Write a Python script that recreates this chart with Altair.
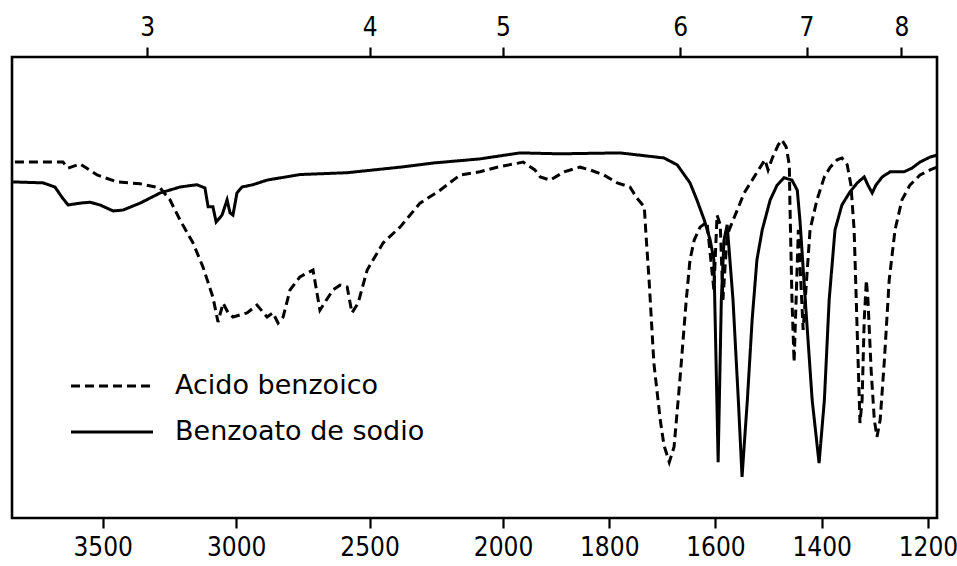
import altair as alt
import pandas as pd

# Infrared spectra: wavenumber (cm-1) and transmittance (%)
series_names = ["Acido benzoico", "Benzoato de sodio"]

acid_wn = [3829, 3649, 3630, 3585, 3521, 3446, 3360, 3285, 3248, 3210, 3162, 3124,
           3087, 3068, 3049, 3030, 3012, 2959, 2922, 2884, 2862, 2843, 2824, 2798,
           2761, 2712, 2686, 2637, 2611, 2584, 2566, 2543, 2509, 2449, 2386, 2311,
           2236, 2161, 2086, 2022, 1962, 1940, 1930, 1911, 1885, 1855, 1836, 1810,
           1785, 1761, 1748, 1734, 1731, 1725, 1716, 1704, 1697, 1687, 1678, 1667,
           1655, 1648, 1640, 1629, 1616, 1603, 1597, 1591, 1586, 1578, 1563, 1546,
           1525, 1507, 1501, 1493, 1482, 1475, 1467, 1461, 1460, 1456, 1452, 1444,
           1435, 1422, 1409, 1395, 1384, 1371, 1362, 1352, 1345, 1339, 1335, 1331,
           1328, 1324, 1320, 1316, 1313, 1307, 1301, 1296, 1290, 1282, 1273, 1262,
           1249, 1234, 1215, 1196, 1183]
acid_t = [77.2, 77.2, 75.9, 76.8, 74.4, 72.9, 72.5, 71.6, 69.0, 64.6, 59.7, 54.4,
          47.9, 42.5, 46.6, 44.5, 43.6, 44.5, 46.2, 43.6, 44.5, 42.3, 43.6, 49.5,
          52.3, 53.8, 45.1, 49.5, 50.5, 50.1, 44.5, 46.6, 53.8, 59.7, 63.1, 68.3,
          71.1, 74.4, 75.1, 76.1, 77.2, 75.5, 74.0, 73.3, 75.1, 76.1, 75.5, 74.4,
          72.7, 71.8, 69.4, 67.5, 61.8, 51.6, 33.6, 21.3, 15.8, 12.1, 15.4, 29.9,
          47.3, 56.0, 60.3, 63.1, 64.2, 49.5, 65.7, 63.6, 47.3, 61.4, 65.7, 70.5,
          74.4, 77.7, 75.5, 78.1, 80.9, 82.0, 80.5, 76.6, 69.0, 47.3, 33.8, 62.5,
          40.8, 62.5, 69.0, 74.0, 76.1, 77.7, 78.1, 76.6, 72.2, 62.5, 47.3, 32.1,
          20.6, 25.6, 43.0, 51.6, 47.3, 32.1, 21.3, 17.6, 21.3, 34.3, 51.6, 62.5,
          69.0, 72.2, 74.4, 75.5, 76.1]

salt_wn = [3836, 3724, 3679, 3653, 3630, 3585, 3548, 3510, 3461, 3424, 3360, 3285,
           3210, 3147, 3117, 3105, 3087, 3075, 3053, 3034, 3023, 3012, 2997, 2978,
           2937, 2884, 2761, 2584, 2386, 2262, 2086, 1968, 1893, 1780, 1697, 1672,
           1648, 1635, 1621, 1610, 1603, 1599, 1595, 1589, 1584, 1578, 1567, 1557,
           1550, 1540, 1531, 1522, 1512, 1497, 1484, 1471, 1456, 1446, 1441, 1431,
           1418, 1405, 1395, 1386, 1375, 1362, 1347, 1333, 1320, 1313, 1305, 1298,
           1286, 1271, 1245, 1230, 1215, 1196, 1183]
salt_t = [72.9, 72.7, 71.8, 69.6, 67.9, 68.3, 68.5, 67.9, 66.6, 66.8, 68.3, 70.5,
          71.8, 72.3, 71.6, 67.5, 67.5, 64.2, 65.7, 69.0, 66.2, 65.7, 70.5, 71.8,
          72.3, 73.3, 74.5, 74.9, 76.1, 77.0, 77.9, 79.2, 79.0, 79.2, 78.1, 76.6,
          72.7, 69.0, 64.6, 60.3, 56.0, 34.3, 12.1, 47.3, 60.3, 63.6, 47.3, 25.6,
          8.9, 25.6, 43.0, 56.0, 62.5, 69.0, 72.2, 73.8, 73.3, 71.1, 64.6, 47.3,
          25.6, 11.9, 25.6, 47.3, 62.5, 67.9, 70.7, 72.7, 74.0, 72.2, 70.5, 72.2,
          74.0, 75.1, 75.1, 75.9, 77.2, 78.3, 78.7]

wavenumber_ticks = [3500, 3000, 2500, 2000, 1800, 1600, 1400, 1200]
micron_ticks = [3, 4, 5, 6, 7, 8]

acid = pd.DataFrame({"wn": acid_wn, "t": acid_t, "serie": series_names[0]})
salt = pd.DataFrame({"wn": salt_wn, "t": salt_t, "serie": series_names[1]})
acid["i"] = range(len(acid))
salt["i"] = range(len(salt))
data = pd.concat([acid, salt], ignore_index=True)

TICK_FONT = "DejaVu Sans Condensed, sans-serif"

# Wavenumber scale is compressed above 2000 cm-1 (two linear pieces)
x_scale = alt.Scale(domain=[3840, 2000, 1183], range=[0, 491, 925],
                    nice=False, zero=False)
y_scale = alt.Scale(domain=[0, 100], nice=False, zero=False)
dash_scale = alt.Scale(domain=series_names, range=[[9, 5], [1, 0]])

# Long horizontal key drawn with a wide custom path so the rows stay compact
legend = alt.Legend(
    orient="none", legendX=78, legendY=307, title=None,
    symbolType="M-2,0H2", symbolSize=1681, symbolStrokeWidth=3,
    symbolStrokeColor="black", labelFont="DejaVu Sans", labelFontSize=27,
    labelColor="black", labelOffset=41, labelLimit=500, rowPadding=11,
    padding=0,
)

bottom_axis = alt.Axis(
    orient="bottom", values=wavenumber_ticks, format="d", title=None,
    grid=False, domain=False, tickSize=10, tickWidth=2.2, tickColor="black",
    labelFont=TICK_FONT, labelFontSize=26, labelColor="black",
    labelPadding=6, labelFlush=False, labelOverlap=False,
)
top_axis = alt.Axis(
    orient="top", values=[10000 / m for m in micron_ticks],
    labelExpr="round(10000 / datum.value)", title=None,
    grid=False, domain=False, tickSize=10, tickWidth=2.2, tickColor="black",
    labelFont=TICK_FONT, labelFontSize=26, labelColor="black",
    labelPadding=7, labelFlush=False, labelOverlap=False,
)

base = alt.Chart(data).mark_line(strokeWidth=3, clip=True, color="black")

acid_line = base.transform_filter(alt.datum.serie == series_names[0]).encode(
    x=alt.X("wn:Q", scale=x_scale, axis=bottom_axis),
    y=alt.Y("t:Q", scale=y_scale, axis=None),
    strokeDash=alt.StrokeDash("serie:N", scale=dash_scale, legend=legend),
    order="i:Q",
)
salt_line = base.transform_filter(alt.datum.serie == series_names[1]).encode(
    x=alt.X("wn:Q", scale=x_scale, axis=top_axis),
    y=alt.Y("t:Q", scale=y_scale, axis=None),
    strokeDash=alt.StrokeDash("serie:N", scale=dash_scale, legend=legend),
    order="i:Q",
)

chart = (
    alt.layer(acid_line, salt_line)
    .resolve_axis(x="independent")
    .properties(
        width=925, height=461,
        autosize=alt.AutoSizeParams(type="none"),
        padding={"left": 12, "top": 57, "right": 20, "bottom": 48},
        background="white",
    )
    .configure_view(stroke="black", strokeWidth=2.6)
)

chart.save("out.html", embed_options={"renderer": "svg", "actions": False})
